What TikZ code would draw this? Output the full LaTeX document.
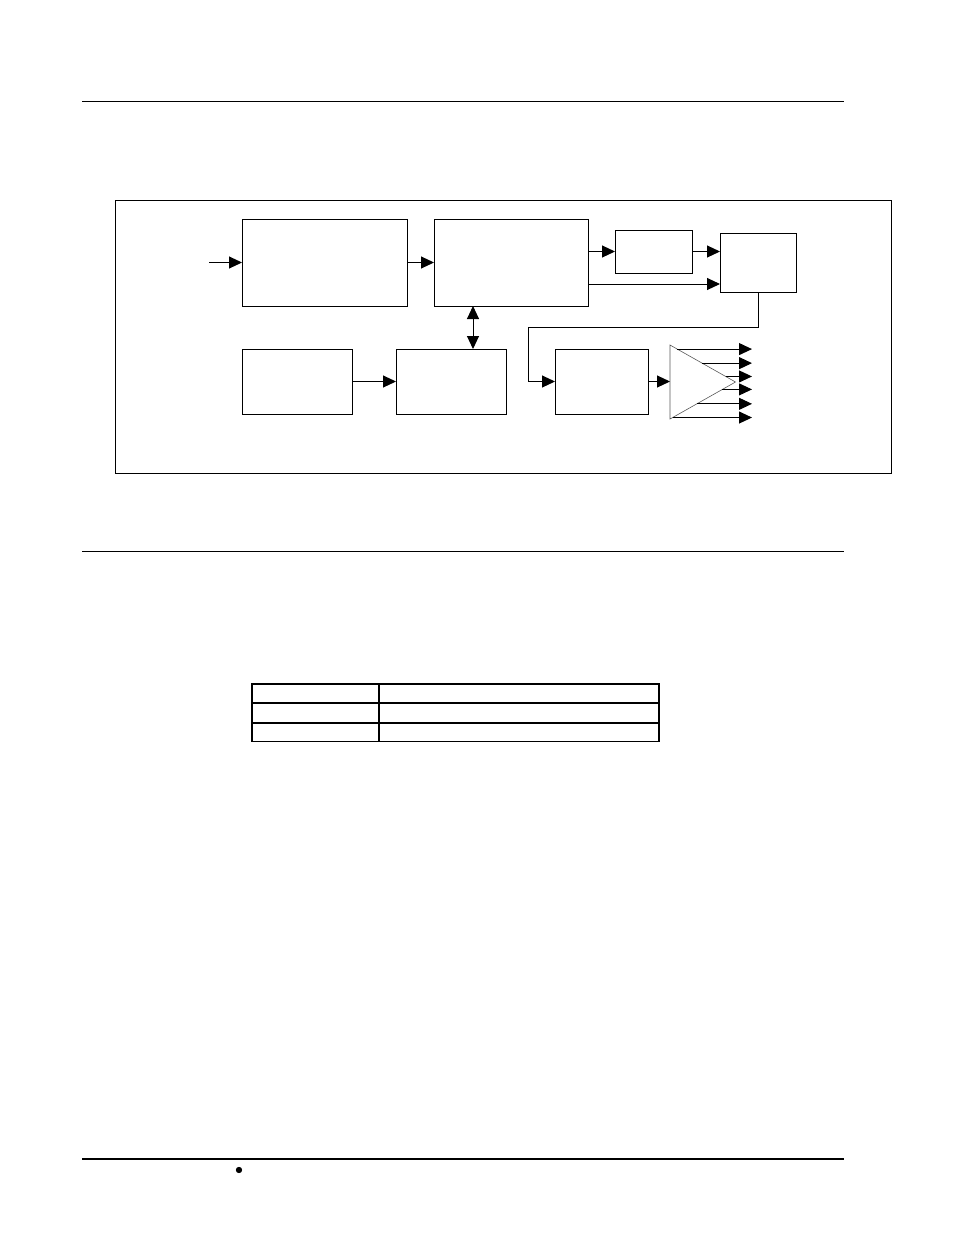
\documentclass[tikz,border=0pt]{standalone}
\usetikzlibrary{positioning,arrows.meta,calc}

\tikzset{
  blk/.style={draw, line width=1pt, inner sep=0pt, outer sep=0pt, anchor=north west},
  sig/.style={line width=1pt, -{Triangle[length=13pt,width=12pt]}},
  rule/.style={line width=1pt}
}

\begin{document}
\begin{tikzpicture}[x=1pt,y=-1pt]
    \useasboundingbox (0,0) rectangle (954,1235);

    % Page rules
    \draw[rule] (82,101) -- (844,101);
    \draw[rule] (82,551) -- (844,551);
    \draw[line width=2pt] (82,1159) -- (844,1159);
    \node[scale=1.6, inner sep=0pt] (dot) at (239,1170.5) {$\bullet$};

    % Frame round the block diagram
    \draw[line width=1pt] (115,200) rectangle (891,473);

    % Top row
    \node[blk, minimum width=165pt, minimum height=87pt] (A) at (242,219) {};
    \node[blk, minimum width=154pt, minimum height=87pt, below right=0pt and 27pt of A.north east] (B) {};
    \node[blk, minimum width=77pt, minimum height=43pt] (C) at (615,230) {};
    \node[blk, minimum width=76pt, minimum height=59pt] (D) at (720,233) {};

    % Bottom row
    \node[blk, minimum width=110pt, minimum height=65pt] (F) at (242,349) {};
    \node[blk, minimum width=110pt, minimum height=65pt, below right=0pt and 44pt of F.north east] (G) {};
    \node[blk, minimum width=93pt, minimum height=65pt] (E) at (555,349) {};

    % Fan-out triangle
    \coordinate (tl) at (670,345);
    \coordinate (tip) at (735.5,382);
    \coordinate (bl) at (670,419);
    \coordinate (out) at (752,382);
    \draw[gray!70!black, line width=0.6pt] (tl) -- (tip) -- (bl) -- cycle;

    % Connectors
    \coordinate[left=33pt of A.west] (in);
    \draw[sig] (in) -- (A.west);
    \draw[sig] (A.east) -- (A.east -| B.west);
    \draw[sig] (C.west -| B.east) -- (C.west);
    \draw[sig] (C.east) -- (C.east -| D.west);
    \coordinate (d2) at ([yshift=8pt]D.south west);
    \draw[sig] (d2 -| B.east) -- (d2);
    \draw[sig] (D.south) -- ++(0,35) -| ([xshift=-27pt]E.west) -- (E.west);
    \draw[sig] (E.east) -- (E.east -| tl);
    \draw[sig] (F.east) -- (G.west);
    \coordinate (bus) at ([xshift=22pt]G.north);
    \draw[line width=1pt, {Triangle[length=13pt,width=12pt]}-{Triangle[length=13pt,width=12pt]}] (bus |- B.south) -- (bus);

    % Outputs
    \foreach \t in {0.11,0.49,0.85} {
      \draw[sig] ($(tl)!\t!(tip)$) coordinate (p) -- (p -| out);
    }
    \foreach \t in {0.8,0.41,0.04} {
      \draw[sig] ($(bl)!\t!(tip)$) coordinate (p) -- (p -| out);
    }

    % Table
    \draw[line width=1.3pt] (252,684) rectangle (659,741.5);
    \draw[line width=2pt] (252,703) -- (659,703);
    \draw[line width=2pt] (252,722.5) -- (659,722.5);
    \draw[line width=2pt] (378.5,684) -- (378.5,741.5);
\end{tikzpicture}
\end{document}
